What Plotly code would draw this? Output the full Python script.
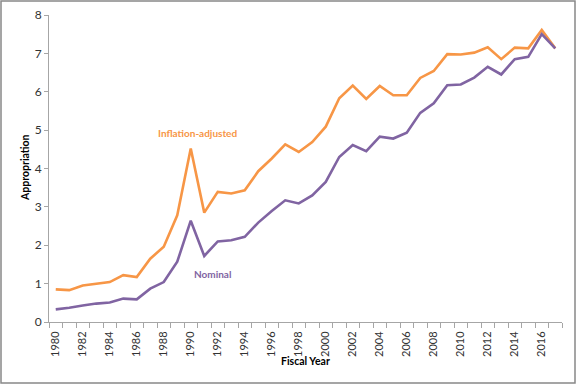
import plotly.graph_objects as go

years = list(range(1980, 2018))
inflation_adjusted = [0.85, 0.83, 0.95, 1.00, 1.04, 1.22, 1.17, 1.65, 1.96, 2.78,
                      4.52, 2.85, 3.39, 3.35, 3.43, 3.93, 4.26, 4.63, 4.43, 4.69,
                      5.09, 5.83, 6.16, 5.81, 6.15, 5.91, 5.91, 6.36, 6.54, 6.98,
                      6.97, 7.02, 7.16, 6.85, 7.15, 7.13, 7.61, 7.13]
nominal = [0.33, 0.37, 0.43, 0.48, 0.51, 0.61, 0.59, 0.87, 1.04, 1.57,
           2.64, 1.72, 2.10, 2.13, 2.22, 2.59, 2.89, 3.17, 3.09, 3.30,
           3.65, 4.30, 4.61, 4.45, 4.83, 4.78, 4.93, 5.45, 5.70, 6.17,
           6.19, 6.37, 6.65, 6.45, 6.85, 6.91, 7.50, 7.13]
tick_years = list(range(1980, 2018, 2))

ORANGE = "#F79646"
PURPLE = "#8064A2"
FONT = "Lato, 'Open Sans', sans-serif"

W, H = 577, 385
ml, mr, mt, mb = 49, 15, 15, 63
pw = W - ml - mr
ph = H - mt - mb

fig = go.Figure()
fig.add_trace(go.Scatter(x=years, y=inflation_adjusted, mode="lines",
                         line=dict(color=ORANGE, width=2.6), name="Inflation-adjusted"))
fig.add_trace(go.Scatter(x=years, y=nominal, mode="lines",
                         line=dict(color=PURPLE, width=2.6), name="Nominal"))

fig.add_annotation(x=1990.5, y=4.92, text="<b>Inflation-adjusted</b>", showarrow=False,
                   xanchor="center", yanchor="middle",
                   font=dict(color=ORANGE, size=10, family=FONT))
fig.add_annotation(x=1991.6, y=1.24, text="<b>Nominal</b>", showarrow=False,
                   xanchor="center", yanchor="middle",
                   font=dict(color=PURPLE, size=10, family=FONT))

# axis titles
fig.add_annotation(xref="paper", yref="paper", x=(305 - ml) / pw, y=-(361 - (H - mb)) / ph,
                   xanchor="center", yanchor="middle",
                   text="<b>Fiscal Year</b>", showarrow=False,
                   font=dict(size=10.5, family=FONT, color="#000"))
fig.add_annotation(xref="paper", yref="paper", x=(25 - ml) / pw, y=((H - mb) - 168) / ph,
                   xanchor="center", yanchor="middle",
                   text="<b>Appropriation</b>", showarrow=False, textangle=-90,
                   font=dict(size=10.5, family=FONT, color="#000"))

# outer frame
x0 = (1 - ml) / pw
x1 = (575 - ml) / pw
y0 = -(383 - (H - mb)) / ph
y1 = 1 + (mt - 1) / ph
fig.add_shape(type="rect", xref="paper", yref="paper", x0=x0, x1=x1, y0=y0, y1=y1,
              line=dict(color="#888888", width=1.5), layer="above")

fig.update_layout(
    width=W, height=H,
    margin=dict(l=ml, r=mr, t=mt, b=mb, autoexpand=False),
    paper_bgcolor="white", plot_bgcolor="white",
    showlegend=False,
    font=dict(family=FONT, color="#333333", size=11),
    xaxis=dict(
        range=[1979.5, 2017.5], tickvals=tick_years, ticktext=[str(y) for y in tick_years],
        tickangle=-90, ticks="", showgrid=False, zeroline=False, automargin=False,
        showline=True, linecolor="#A6A6A6", linewidth=1, ticklabelstandoff=4,
        tickfont=dict(size=11, family=FONT, color="#333333"),
        minor=dict(tick0=1979.5, dtick=1, ticks="outside", ticklen=5,
                   tickcolor="#A6A6A6", showgrid=False),
    ),
    yaxis=dict(
        range=[0, 8], dtick=1, ticks="outside", ticklen=4, tickcolor="#A6A6A6",
        showgrid=False, zeroline=False, showline=True, linecolor="#A6A6A6", linewidth=1,
        automargin=False,
        tickfont=dict(size=12, family=FONT, color="#333333"),
    ),
)

fig.write_html("out.html", config={"displayModeBar": False},
               post_script="document.body.style.margin='0';document.body.style.overflow='hidden';")
